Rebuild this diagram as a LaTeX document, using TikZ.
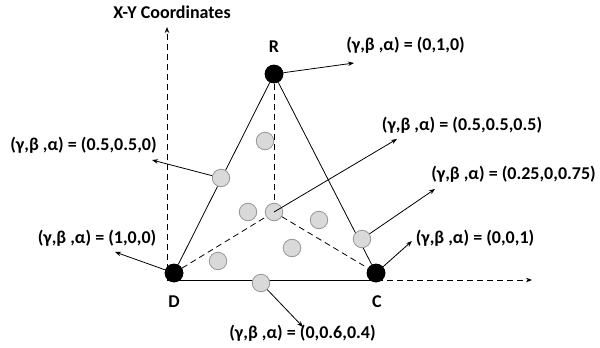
\documentclass[tikz,border=0pt]{standalone}
\usepackage{fontspec}
\setmainfont{Carlito}
\usetikzlibrary{arrows.meta}
\definecolor{ptfill}{RGB}{217,217,217}
\definecolor{ptdraw}{RGB}{150,150,150}
\begin{document}
\begin{tikzpicture}[x=1pt,y=-1pt,
  vtx/.style={circle,fill=black,inner sep=0pt,minimum size=18.6pt},
  pt/.style={circle,draw=ptdraw,fill=ptfill,line width=0.8pt,inner sep=0pt,minimum size=17.5pt},
  lab/.style={font=\bfseries\fontsize{18}{20}\selectfont,inner sep=0pt},
  arr/.style={-{Stealth[length=6pt,width=4.5pt]},line width=0.8pt},
  dsh/.style={dash pattern=on 6pt off 4pt,line width=0.8pt}
]
\useasboundingbox (0,0) rectangle (600,348);
\coordinate (o) at (167,280);
\coordinate (xend) at (532,280);
\coordinate (yend) at (167,27);
\draw[dsh,-{Stealth[length=6pt,width=4.5pt]}] (o) -- (xend);
\draw[dsh,-{Stealth[length=6pt,width=4.5pt]}] (o) -- (yend);
\node[lab] (xy) at (172,12) {X-Y Coordinates};

\node[vtx] (r) at (274,74) {};
\node[vtx] (d) at (174,273) {};
\node[vtx] (c) at (376,273) {};
\node[lab] (rl) at (274,47) {R};
\node[lab] (dl) at (174,302) {D};
\node[lab] (cl) at (377,302) {C};

\draw[line width=0.8pt] (d) -- (r) -- (c);
\draw[line width=0.8pt] (d.-49) -- (c.-131);

\node[pt] (m) at (274,212) {};
\draw[dsh] (r) -- (m);
\draw[dsh] (d) -- (m) -- (c);

\node[pt] (p1) at (265,141) {};
\node[pt] (dr) at (221,178) {};
\node[pt] (p2) at (248,212) {};
\node[pt] (p3) at (319,220) {};
\node[pt] (p4) at (292,248) {};
\node[pt] (p5) at (218,261) {};
\node[pt] (rc) at (362,239) {};
\node[pt] (dc) at (261,283) {};
\node[vtx] at (r) {};
\node[vtx] at (d) {};
\node[vtx] at (c) {};

\coordinate (tr) at (354,63);
\coordinate (tdr) at (152,160);
\coordinate (tm) at (397,139);
\coordinate (trc) at (435,189);
\coordinate (tc) at (412,241);
\coordinate (td) at (115,252);
\coordinate (tdc) at (303,327);
\draw[arr] (r) -- (tr);
\draw[arr] (dr) -- (tdr);
\draw[arr] (m.center) -- (tm);
\draw[arr] (rc) -- (trc);
\draw[arr] (c) -- (tc);
\draw[arr] (d) -- (td);
\draw[arr] (dc) -- (tdc);

\node[lab] (lr) at (405.5,45) {(γ,β ,α) = (0,1,0)};
\node[lab] (ldr) at (83.5,145) {(γ,β ,α) = (0.5,0.5,0)};
\node[lab] (lm) at (462,125) {(γ,β ,α) = (0.5,0.5,0.5)};
\node[lab] (lrc) at (513.5,174) {(γ,β ,α) = (0.25,0,0.75)};
\node[lab] (lc) at (475,238) {(γ,β ,α) = (0,0,1)};
\node[lab] (ld) at (97,238) {(γ,β ,α) = (1,0,0)};
\node[lab] (ldc) at (302.5,333) {(γ,β ,α) = (0,0.6,0.4)};
\end{tikzpicture}
\end{document}
